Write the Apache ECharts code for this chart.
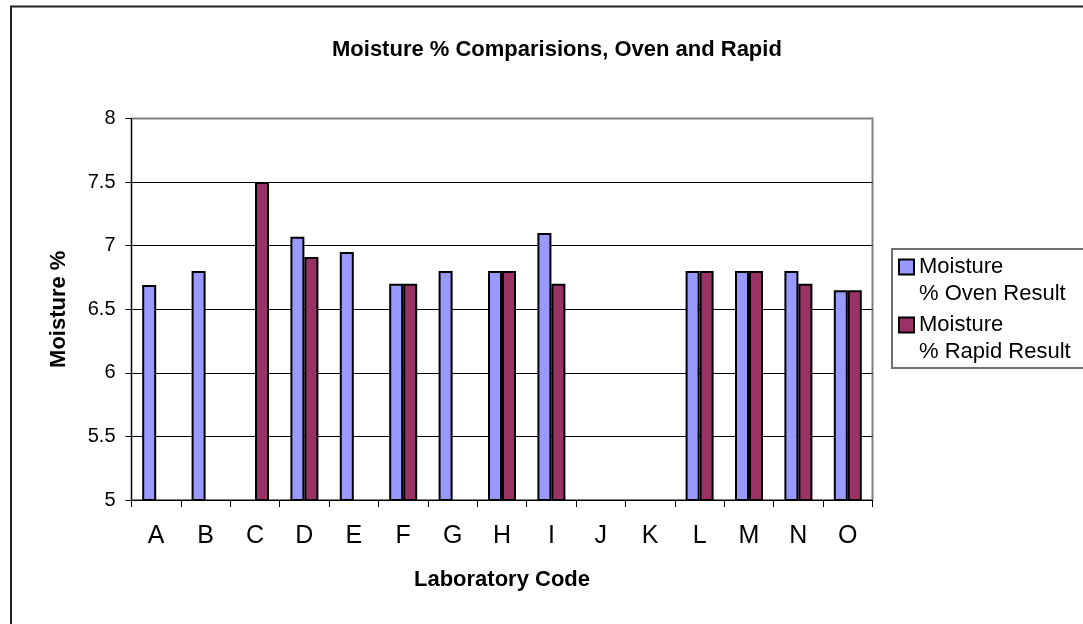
<!DOCTYPE html>
<html>
<head>
<meta charset="utf-8">
<script src="https://cdn.jsdelivr.net/npm/echarts@6/dist/echarts.min.js"></script>
<style>
  html, body { margin: 0; padding: 0; background: #fff; }
  #chart { width: 1083px; height: 624px; }
</style>
</head>
<body>
<div id="chart"></div>
<script>
const categories = ['A','B','C','D','E','F','G','H','I','J','K','L','M','N','O'];
const ovenValues  = [6.69, 6.8, null, 7.07, 6.95, 6.7, 6.8, 6.8, 7.1, null, null, 6.8, 6.8, 6.8, 6.65];
const rapidValues = [null, null, 7.5, 6.91, null, 6.7, null, 6.8, 6.7, null, null, 6.8, 6.8, 6.7, 6.65];
const seriesNames = ['Moisture\n% Oven Result', 'Moisture\n% Rapid Result'];
const titleText = 'Moisture % Comparisions, Oven and Rapid';
const xAxisName = 'Laboratory Code';
const yAxisName = 'Moisture %';

const FONT = "'Liberation Sans', Arial, Helvetica, sans-serif";
const chart = echarts.init(document.getElementById('chart'), null, { renderer: 'canvas' });

chart.setOption({
  backgroundColor: '#ffffff',
  animation: false,
  graphic: [{
    type: 'rect',
    z: 0,
    shape: { x: 11, y: 6.5, width: 1200, height: 1000 },
    style: { fill: 'none', stroke: '#222', lineWidth: 2 }
  }],
  title: {
    text: titleText,
    left: 332,
    top: 39,
    padding: 0,
    textStyle: { fontFamily: FONT, fontSize: 22, fontWeight: 'bold', color: '#000' }
  },
  legend: {
    orient: 'vertical',
    left: 892,
    top: 249,
    padding: [5, 60, 3, 6],
    itemWidth: 15,
    itemHeight: 42,
    itemGap: 5,
    icon: 'path://M0,0H15V15H0ZM0,42',
    backgroundColor: '#fff',
    borderColor: '#707070',
    borderWidth: 2,
    itemStyle: { borderColor: '#000', borderWidth: 2 },
    textStyle: { fontFamily: FONT, fontSize: 22, lineHeight: 26.5, color: '#000' },
    data: seriesNames
  },
  grid: {
    left: 131.5,
    right: 210.5,
    top: 118.5,
    bottom: 124,
    show: true,
    backgroundColor: '#fff',
    borderColor: '#808080',
    borderWidth: 2
  },
  xAxis: {
    type: 'category',
    data: categories,
    name: xAxisName,
    nameLocation: 'middle',
    nameGap: 69,
    nameTextStyle: { fontFamily: FONT, fontSize: 22, fontWeight: 'bold', color: '#000' },
    axisLine: { lineStyle: { color: '#000', width: 1 } },
    axisTick: { show: true, length: 7, lineStyle: { color: '#000' } },
    axisLabel: { fontFamily: FONT, fontSize: 25, color: '#000', margin: 24, interval: 0 },
    splitLine: { show: false }
  },
  yAxis: {
    type: 'value',
    min: 5,
    max: 8,
    interval: 0.5,
    name: yAxisName,
    nameLocation: 'middle',
    nameGap: 62,
    nameTextStyle: { fontFamily: FONT, fontSize: 22, fontWeight: 'bold', color: '#000' },
    axisLine: { show: true, lineStyle: { color: '#000', width: 1 } },
    axisTick: { show: true, length: 6, lineStyle: { color: '#000' } },
    axisLabel: { fontFamily: FONT, fontSize: 20, color: '#000', margin: 16 },
    splitLine: { show: true, showMaxLine: false, lineStyle: { color: '#000', width: 1 } }
  },
  series: [
    {
      name: seriesNames[0],
      type: 'bar',
      data: ovenValues,
      barWidth: 14,
      barGap: '0%',
      itemStyle: { color: '#9999FF', borderColor: '#000', borderWidth: 2 }
    },
    {
      name: seriesNames[1],
      type: 'bar',
      data: rapidValues,
      barWidth: 14,
      barGap: '0%',
      itemStyle: { color: '#993366', borderColor: '#000', borderWidth: 2 }
    }
  ]
});
</script>
</body>
</html>
